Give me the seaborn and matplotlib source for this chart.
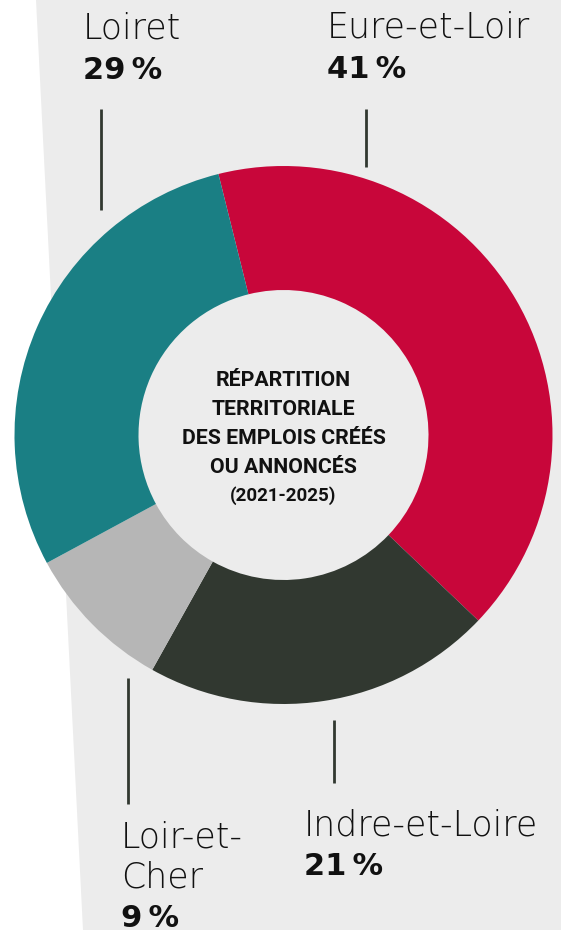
import matplotlib
matplotlib.use("Agg")
import matplotlib.pyplot as plt
from matplotlib.patches import Polygon
import seaborn as sns

# Share of jobs created or announced per département (2021-2025)
departements = ["Eure-et-Loir", "Indre-et-Loire", "Loir-et-Cher", "Loiret"]
parts = [41, 21, 9, 29]
couleurs = ["#c8063a", "#313830", "#b6b6b6", "#1a7f84"]

sns.set_theme(style="white")
plt.rcParams["font.family"] = ["DejaVu Sans"]

W, H = 561, 930
fig = plt.figure(figsize=(W / 100, H / 100), dpi=100)
fig.patch.set_facecolor("white")
ax = fig.add_axes([0, 0, 1, 1])

def Y(py):
    return H - py

# grey panel with slanted left edge
ax.add_patch(Polygon([(36, Y(0)), (W, Y(0)), (W, Y(H)), (83, Y(H))],
                     closed=True, facecolor="#ececec", edgecolor="none", zorder=0))

cx, cy, r_out, r_in = 283.5, Y(435), 269, 145
ax.pie(parts, colors=couleurs, startangle=104, counterclock=False,
       center=(cx, cy), radius=r_out,
       wedgeprops=dict(width=r_out - r_in, edgecolor="none", linewidth=0))
ax.set_xlim(0, W)
ax.set_ylim(0, H)
ax.set_aspect("equal")
ax.axis("off")

dark = "#313830"
name_kw = dict(fontsize=25, color="#111111", family=["DejaVu Sans"],
               fontweight="light", ha="left", va="baseline")
pct_kw = dict(fontsize=22, color="#111111", family=["DejaVu Sans"],
              fontweight="bold", ha="left", va="baseline")

def fmt(v):
    return f"{v}\u202f%"

vals = dict(zip(departements, parts))

ax.text(83, Y(39), "Loiret", **name_kw)
ax.text(83, Y(79), fmt(vals["Loiret"]), **pct_kw)
ax.text(327, Y(38), "Eure-et-Loir", **name_kw)
ax.text(327, Y(78), fmt(vals["Eure-et-Loir"]), **pct_kw)
ax.text(304, Y(835), "Indre-et-Loire", **name_kw)
ax.text(304, Y(875), fmt(vals["Indre-et-Loire"]), **pct_kw)
ax.text(121, Y(847), "Loir-et-", **name_kw)
ax.text(121, Y(888), "Cher", **name_kw)
ax.text(121, Y(927), fmt(vals["Loir-et-Cher"]), **pct_kw)

# leader lines
for x, y0, y1 in [(101, 109, 210), (366, 109, 167), (128, 678, 804), (334, 720, 783)]:
    ax.plot([x, x], [Y(y0), Y(y1)], color=dark, lw=2, solid_capstyle="butt")

# centre title
titre = ["RÉPARTITION", "TERRITORIALE", "DES EMPLOIS CRÉÉS", "OU ANNONCÉS", "(2021-2025)"]
for i, ligne in enumerate(titre):
    ax.text(cx, Y(381 + 28.7 * i), ligne, ha="center", va="center",
            fontsize=15.3 if i < 4 else 13.5, fontweight="bold", color="#111111",
            family=["Roboto", "DejaVu Sans"], fontstretch="condensed")

fig.savefig("out.png", dpi=100, facecolor="white")
